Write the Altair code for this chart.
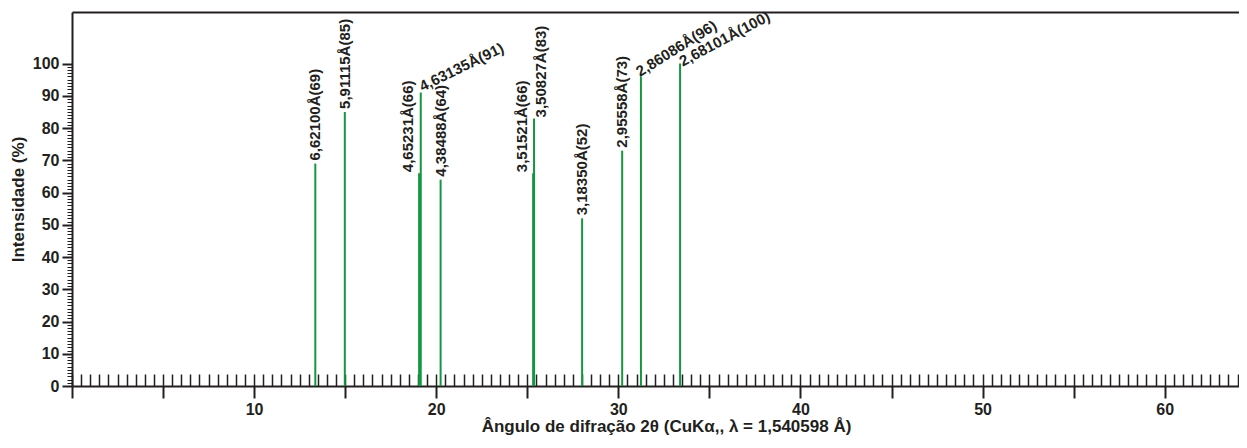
import altair as alt
import pandas as pd

# Peaks (2θ in degrees, relative intensity in %)
d_spacing = ["6,62100", "5,91115", "4,65231", "4,63135", "4,38488", "3,51521",
             "3,50827", "3,18350", "2,95558", "2,86086", "2,68101"]
two_theta = [13.36, 14.98, 19.06, 19.15, 20.24, 25.32, 25.37, 28.01, 30.21, 31.24, 33.39]
intensity = [69, 85, 66, 91, 64, 66, 83, 52, 73, 96, 100]

x_major_ticks = [0, 5, 10, 15, 20, 25, 30, 35, 40, 45, 50, 55, 60]
x_minor_ticks = [i * 0.5 for i in range(129)]
y_major_ticks = [0, 10, 20, 30, 40, 50, 60, 70, 80, 90, 100]
y_minor_ticks = list(range(0, 101))

df = pd.DataFrame({"d": d_spacing, "tt": two_theta, "I": intensity})
df["label"] = df["d"] + "Å(" + df["I"].astype(str) + ")"
df["zero"] = 0

FONT = "Liberation Sans"
INK = "#231f20"
GREEN = "#12993f"
W, H = 1167, 374

xscale = alt.Scale(domain=[0, 64.08], nice=False, zero=False)
yscale = alt.Scale(domain=[0, 116], nice=False)

base = alt.Chart(df)


def pick(*ds):
    return alt.FieldOneOfPredicate(field="d", oneOf=list(ds))


rules = base.mark_rule(color=GREEN, strokeWidth=2).encode(
    x=alt.X("tt:Q", scale=xscale,
            axis=alt.Axis(orient="bottom", values=x_major_ticks,
                          labelExpr="datum.value % 10 == 0 && datum.value > 0 ? datum.label : ''",
                          tickSize=12, tickWidth=2, domainWidth=2, labelPadding=3,
                          title="Ângulo de difração 2θ (CuKα,, λ = 1,540598 Å)",
                          titlePadding=1, titleX=594)),
    y=alt.Y("zero:Q", scale=yscale,
            axis=alt.Axis(orient="left", values=y_major_ticks, tickSize=10, tickWidth=2,
                          domainWidth=2, labelPadding=3, title="Intensidade (%)",
                          titlePadding=5)),
    y2="I:Q",
)

txt_args = dict(font=FONT, fontSize=15, fontWeight="bold", color=INK)

txt_v = base.transform_filter(
    pick("6,62100", "5,91115", "4,38488", "3,18350", "2,95558")
).mark_text(angle=270, align="left", baseline="middle", dx=3, **txt_args).encode(
    x=alt.X("tt:Q", scale=xscale,
            axis=alt.Axis(orient="top", offset=-H, values=x_minor_ticks, tickSize=12,
                          tickWidth=1.5, labels=False, domain=False, title=None)),
    y=alt.Y("I:Q", scale=yscale,
            axis=alt.Axis(orient="left", values=y_minor_ticks, tickSize=5, tickWidth=1,
                          labels=False, domain=False, title=None)),
    text="label:N",
)

txt_vl = base.transform_filter(pick("4,65231", "3,51521")).mark_text(
    angle=270, align="left", baseline="middle", dx=1, dy=-11, **txt_args
).encode(
    x=alt.X("tt:Q", scale=xscale,
            axis=alt.Axis(orient="top", ticks=False, labels=False, domain=True,
                          domainWidth=2, title=None)),
    y=alt.Y("I:Q", scale=yscale, axis=None),
    text="label:N",
)

txt_vr = base.transform_filter(pick("3,50827")).mark_text(
    angle=270, align="left", baseline="middle", dx=1, dy=7, **txt_args
).encode(
    x=alt.X("tt:Q", scale=xscale, axis=None),
    y=alt.Y("I:Q", scale=yscale, axis=None),
    text="label:N",
)

txt_a1 = base.transform_filter(pick("4,63135")).mark_text(
    angle=334, align="left", baseline="alphabetic", dx=2, dy=0, **txt_args
).encode(
    x=alt.X("tt:Q", scale=xscale, axis=None),
    y=alt.Y("I:Q", scale=yscale, axis=None),
    text="label:N",
)

txt_a2 = base.transform_filter(pick("2,86086")).mark_text(
    angle=328, align="left", baseline="alphabetic", dx=-1, dy=0, **txt_args
).encode(
    x=alt.X("tt:Q", scale=xscale, axis=None),
    y=alt.Y("I:Q", scale=yscale, axis=None),
    text="label:N",
)

txt_a3 = base.transform_filter(pick("2,68101")).mark_text(
    angle=332, align="left", baseline="alphabetic", dx=1, dy=4, **txt_args
).encode(
    x=alt.X("tt:Q", scale=xscale, axis=None),
    y=alt.Y("I:Q", scale=yscale, axis=None),
    text="label:N",
)

chart = alt.layer(rules, txt_v, txt_vl, txt_vr, txt_a1, txt_a2, txt_a3).resolve_axis(
    x="independent", y="independent"
).properties(
    width=W, height=H,
    autosize=alt.AutoSizeParams(type="none"),
    padding={"left": 64, "top": 4, "right": 0, "bottom": 50},
).configure_view(stroke=None).configure_axis(
    grid=False, domainColor=INK, tickColor=INK, labelColor=INK, titleColor=INK,
    labelFont=FONT, titleFont=FONT, labelFontSize=16, titleFontSize=17,
    labelFontWeight="bold", titleFontWeight="bold",
)

chart.save("out.html", embed_options={"renderer": "svg", "actions": False})
